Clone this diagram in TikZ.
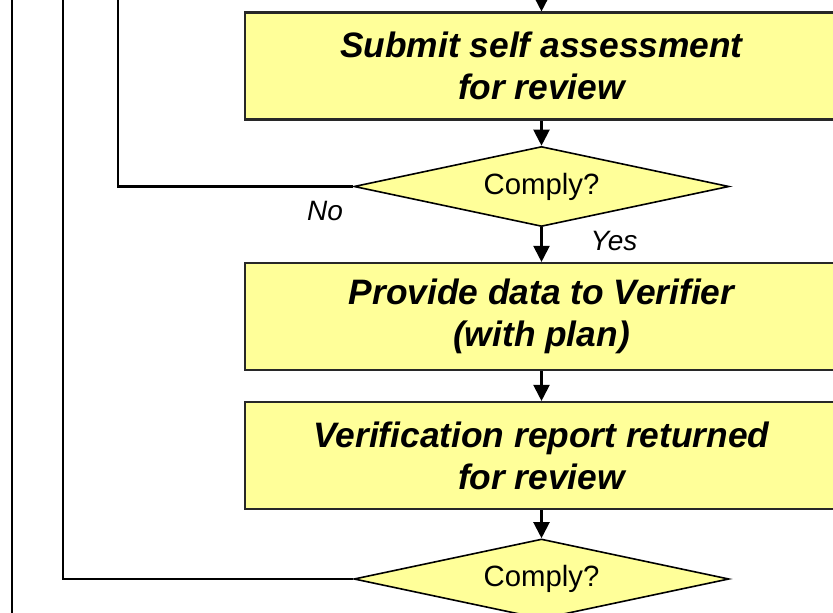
\documentclass[tikz,border=0pt]{standalone}
\usepackage{fontspec}
\setmainfont{Liberation Sans}
\usetikzlibrary{positioning,arrows.meta,shapes.geometric}
\definecolor{boxyellow}{RGB}{255,255,153}
\definecolor{edgegray}{RGB}{40,40,40}

\tikzset{
  stepbox/.style={draw=edgegray, fill=boxyellow, line width=1.6pt, minimum width=444.75pt, minimum height=80.25pt, align=center, inner sep=0pt, font=\fontsize{26.5}{31.5}\selectfont\bfseries\itshape},
  check/.style={diamond, draw=black, fill=boxyellow, line width=1.2pt, shape aspect=4.69, minimum width=281.25pt, minimum height=60pt, inner sep=0pt, font=\fontsize{22}{26}\selectfont},
  flow/.style={line width=1.6pt, -{Triangle[length=12pt,width=12pt]}},
  loop/.style={line width=1.6pt},
  answer/.style={font=\fontsize{21}{25}\selectfont\itshape}
}

\begin{document}
\begin{tikzpicture}[x=0.75pt, y=-0.75pt]
    \useasboundingbox (0,0) rectangle (833,613);

    % process boxes and decisions
    \node[stepbox] (submit) at (541.5,66) {Submit self assessment\\for review};
    \node[check] (comply1) at (541.5,186.5) {Comply?};
    \node[stepbox] (provide) at (541.5,316.5) {Provide data to Verifier\\(with plan)};
    \node[stepbox] (report) at (541.5,455.5) {Verification report returned\\for review};
    \node[check] (comply2) at (541.5,579) {Comply?};

    % free ends running off the page
    \coordinate (into) at (541.5,0);
    \coordinate (back1) at (118,0);
    \coordinate (back2) at (63,0);
    \coordinate (outerA) at (12,0);
    \coordinate (outerB) at (12,613);

    % main flow
    \draw[flow] (into) -- (submit);
    \draw[flow] (submit) -- (comply1);
    \draw[flow] (comply1) -- (provide);
    \draw[flow] (provide) -- (report);
    \draw[flow] (report) -- (comply2);

    % loops back when not complying
    \draw[loop] (comply1.west) -| (back1);
    \draw[loop] (comply2.west) -| (back2);
    \draw[loop] (outerA) -- (outerB);

    % answers
    \node[answer] (no1) at (325,211) {No};
    \node[answer] (yes1) at (614,241) {Yes};
\end{tikzpicture}
\end{document}
